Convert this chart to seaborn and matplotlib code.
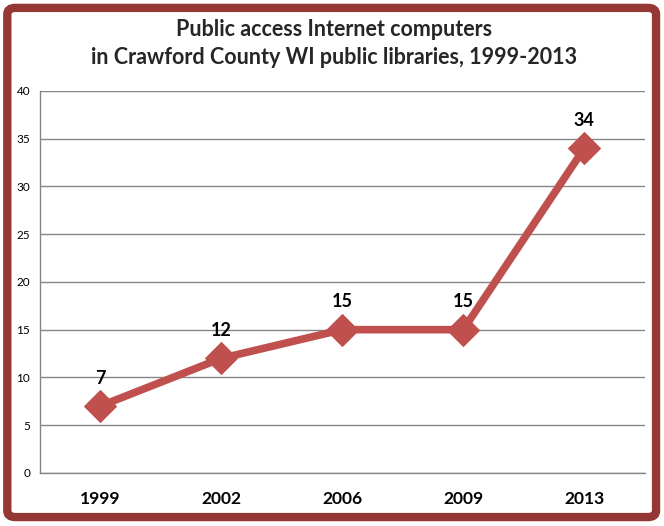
import matplotlib
matplotlib.use("Agg")
import matplotlib.pyplot as plt
from matplotlib.patches import FancyBboxPatch
import seaborn as sns
import pandas as pd

# data
years = ["1999", "2002", "2006", "2009", "2013"]
computers = [7, 12, 15, 15, 34]

line_color = "#C0504D"
border_color = "#953735"
grid_color = "#868686"

sns.set_theme(style="white")
plt.rcParams["font.family"] = ["Lato", "DejaVu Sans"]

df = pd.DataFrame({"pos": range(len(years)), "year": years, "computers": computers})

fig = plt.figure(figsize=(6.64, 5.26), dpi=100)
ax = fig.add_axes([0.060, 0.101, 0.911, 0.726])

sns.lineplot(data=df, x="pos", y="computers", ax=ax, color=line_color,
             linewidth=5.5, marker="D", markersize=16, markeredgecolor=line_color,
             zorder=3)

for p, v in zip(df["pos"], df["computers"]):
    ax.annotate(str(v), (p, v), xytext=(0, 14), textcoords="offset points",
                ha="center", va="bottom", fontsize=13, fontweight="bold", color="black")

ax.set_xlim(-0.5, len(years) - 0.5)
ax.set_ylim(0, 40)
ax.set_yticks(range(0, 41, 5))
ax.set_xticks(df["pos"])
ax.set_xticklabels(years, fontsize=12.5, fontweight="bold")
ax.set_xticks([i - 0.5 for i in range(len(years) + 1)], minor=True)
ax.tick_params(axis="x", which="major", length=0, pad=13, colors="black")
ax.tick_params(axis="x", which="minor", length=5, width=1, color=grid_color, direction="out")
ax.tick_params(axis="y", length=4, width=1, color=grid_color, direction="out",
               labelsize=8.5, pad=3, colors="black")
ax.yaxis.grid(True, color=grid_color, linewidth=1)
ax.set_axisbelow(True)
ax.set_xlabel("")
ax.set_ylabel("")
for s in ["top", "right"]:
    ax.spines[s].set_visible(False)
for s in ["left", "bottom"]:
    ax.spines[s].set_color(grid_color)
    ax.spines[s].set_linewidth(1)

fig.text(0.503, 0.917, "Public access Internet computers\nin Crawford County WI public libraries, 1999-2013",
         ha="center", va="center", fontsize=15.5, fontweight="bold", linespacing=1.4)

border = FancyBboxPatch((0.011, 0.017), 0.977, 0.968, boxstyle="round,pad=0,rounding_size=0.012",
                        transform=fig.transFigure, facecolor="none", edgecolor=border_color,
                        linewidth=6, zorder=10)
fig.patches.append(border)

fig.savefig("out.png", dpi=100)
